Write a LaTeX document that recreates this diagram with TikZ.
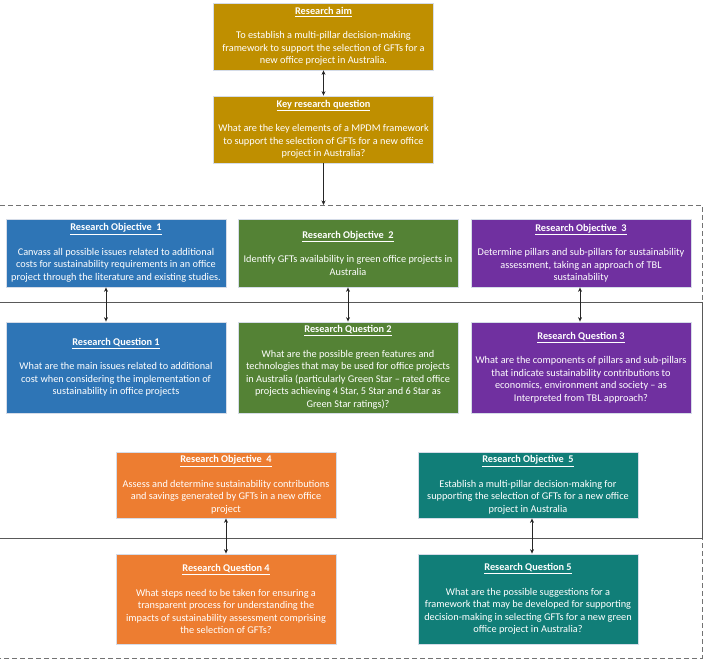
\documentclass[tikz,border=0pt]{standalone}
\usepackage{fontspec}
\setmainfont{Carlito}
\usetikzlibrary{arrows.meta}
\definecolor{cgold}{HTML}{BF8F00}
\definecolor{cblue}{HTML}{2E75B6}
\definecolor{cgreen}{HTML}{548235}
\definecolor{cpurple}{HTML}{7030A0}
\definecolor{corange}{HTML}{ED7D31}
\definecolor{cteal}{HTML}{117E78}
\definecolor{cedge}{HTML}{D5DCE8}
\newcommand{\ttl}[1]{\underline{\textbf{#1}}}
\tikzset{
  box/.style={draw=cedge, line width=0.8pt, text=white, align=center,
    minimum width=220pt, inner sep=2pt,
    font=\fontsize{10.3}{12.5}\selectfont},
  link/.style={draw=black!85, line width=0.7pt,
    {Stealth[length=4.5pt,width=4pt]}-{Stealth[length=4.5pt,width=4pt]}},
  onelink/.style={draw=black!85, line width=0.7pt, -{Stealth[length=4.5pt,width=4pt]}},
  frame/.style={draw=black!55, line width=0.8pt, dash pattern=on 5pt off 3pt},
  solidframe/.style={draw=black!65, line width=0.8pt}
}
\begin{document}
\begin{tikzpicture}[x=1pt,y=-1pt]
\useasboundingbox (0,0) rectangle (704,661);
% frames
\draw[frame] (0,205) -- (702,205) -- (702,658) -- (0,658);
\draw[solidframe] (0,302) -- (702,302) -- (702,538) -- (0,538);
\coordinate (ftop) at (323.5,205);
% top boxes
\node[box, fill=cgold, minimum height=67pt] (aim) at (323.5,36.5)
 {\ttl{Research aim}\\[12pt]To establish a multi-pillar decision-making\\framework to support the selection of GFTs for a\\new office project in Australia.};
\node[box, fill=cgold, minimum height=67pt] (keyq) at (323.5,129.5)
 {\ttl{Key research question}\\[12pt]What are the key elements of a MPDM framework\\to support the selection of GFTs for a new office\\project in Australia?};
% objectives
\node[box, fill=cblue, minimum height=68pt] (ro1) at (116,253)
 {\ttl{Research Objective\ \ 1}\\[12pt]Canvass all possible issues related to additional\\costs for sustainability requirements in an office\\project through the literature and existing studies.};
\node[box, fill=cgreen, minimum height=68pt] (ro2) at (348,253)
 {\ttl{Research Objective\ \ 2}\\[12pt]Identify GFTs availability in green office projects in\\Australia};
\node[box, fill=cpurple, minimum height=68pt] (ro3) at (581,253)
 {\ttl{Research Objective\ \ 3}\\[12pt]Determine pillars and sub-pillars for sustainability\\assessment, taking an approach of TBL\\sustainability};
% questions
\node[box, fill=cblue, minimum height=91pt] (rq1) at (116,367.5)
 {\ttl{Research Question 1}\\[12pt]What are the main issues related to additional\\cost when considering the implementation of\\sustainability in office projects};
\node[box, fill=cgreen, minimum height=91pt] (rq2) at (348,367.5)
 {\ttl{Research Question 2}\\[12pt]What are the possible green features and\\technologies that may be used for office projects\\in Australia (particularly Green Star -- rated office\\projects achieving 4 Star, 5 Star and 6 Star as\\Green Star ratings)?};
\node[box, fill=cpurple, minimum height=91pt] (rq3) at (581,367.5)
 {\ttl{Research Question 3}\\[12pt]What are the components of pillars and sub-pillars\\that indicate sustainability contributions to\\economics, environment and society -- as\\Interpreted from TBL approach?};
% lower pairs
\node[box, fill=corange, minimum height=66pt] (ro4) at (226,485)
 {\ttl{Research Objective\ \ 4}\\[12pt]Assess and determine sustainability contributions\\and savings generated by GFTs in a new office\\project};
\node[box, fill=corange, minimum height=90pt] (rq4) at (226,599)
 {\ttl{Research Question 4}\\[12pt]What steps need to be taken for ensuring a\\transparent process for understanding the\\impacts of sustainability assessment comprising\\the selection of GFTs?};
\node[box, fill=cteal, minimum height=66pt] (ro5) at (528,485)
 {\ttl{Research Objective\ \ 5}\\[12pt]Establish a multi-pillar decision-making for\\supporting the selection of GFTs for a new office\\project in Australia};
\node[box, fill=cteal, minimum height=90pt] (rq5) at (528,599)
 {\ttl{Research Question 5}\\[12pt]What are the possible suggestions for a\\framework that may be developed for supporting\\decision-making in selecting GFTs for a new green\\office project in Australia?};
% connectors
\draw[link] (aim.south) -- (keyq.north);
\draw[onelink] (keyq.south) -- (ftop);
\draw[link] ([xshift=-10pt]ro1.south) -- ([xshift=-10pt]rq1.north);
\draw[link] (ro2.south) -- (rq2.north);
\draw[link] ([xshift=-1pt]ro3.south) -- ([xshift=-1pt]rq3.north);
\draw[link] (ro4.south) -- (rq4.north);
\draw[link] ([xshift=4pt]ro5.south) -- ([xshift=4pt]rq5.north);
\end{tikzpicture}
\end{document}
